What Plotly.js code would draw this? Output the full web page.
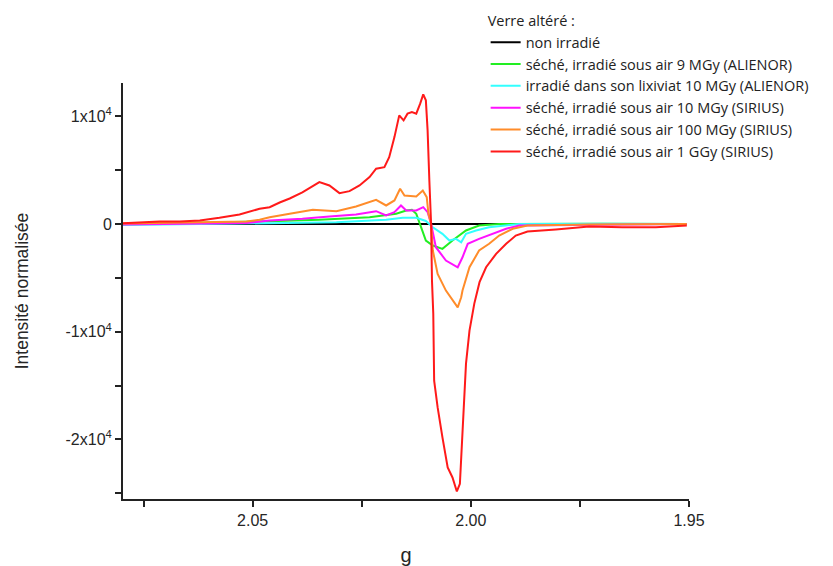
<!DOCTYPE html>
<html>
<head>
<meta charset="utf-8">
<script src="https://cdn.plot.ly/plotly-3.0.1.min.js"></script>
<style>
html,body{margin:0;padding:0;background:#fff;}
#chart{width:833px;height:566px;}
</style>
</head>
<body>
<div id="chart"></div>
<script>
// ---- Data (g factor, normalised intensity) ----
const seriesNames = [
  "non irradié",
  "séché, irradié sous air 9 MGy (ALIENOR)",
  "irradié dans son lixiviat 10 MGy (ALIENOR)",
  "séché, irradié sous air 10 MGy (SIRIUS)",
  "séché, irradié sous air 100 MGy (SIRIUS)",
  "séché, irradié sous air 1 GGy (SIRIUS)"
];

const gBlack = [2.0797, 2.06, 2.04, 2.02, 2.00, 1.98, 1.96, 1.9505];
const yBlack = [0, 0, 0, 0, 0, 0, 0, 0];

const gGreen = [2.0797, 2.0621, 2.0461, 2.0347, 2.0232, 2.0171, 2.0148, 2.0135, 2.0125, 2.0114, 2.0103, 2.0087, 2.0065, 2.0042, 2.0011, 1.9981, 1.9935, 1.97, 1.9505];
const yGreen = [-46, 93, 260, 390, 632, 948, 1255, 1320, 948, -297, -1534, -1998, -2305, -1534, -604, -139, 0, 20, 0];

const gCyan = [2.0797, 2.0700, 2.0621, 2.0461, 2.0308, 2.0194, 2.0156, 2.0125, 2.0103, 2.0087, 2.0065, 2.0049, 2.0034, 2.0022, 2.0011, 1.9988, 1.9958, 1.9919, 1.9889, 1.97, 1.9505];
const yCyan = [-93, -60, -46, 74, 167, 390, 576, 576, 279, -297, -911, -1534, -1375, -1691, -911, -604, -297, -139, 0, 20, 0];

const gMagenta = [2.0797, 2.0667, 2.0514, 2.0461, 2.0386, 2.0324, 2.0263, 2.0217, 2.0194, 2.0175, 2.0160, 2.0148, 2.0125, 2.0109, 2.0099, 2.0091, 2.0080, 2.0057, 2.0030, 2.0019, 2.0007, 1.9981, 1.9950, 1.9919, 1.9889, 1.9706, 1.9505];
const yMagenta = [-46, 46, 93, 325, 483, 697, 883, 1190, 790, 1097, 1719, 1255, 1255, 1561, 1097, 19, -2156, -3392, -4015, -3086, -1840, -1375, -911, -446, -139, -46, 0];

const gOrange = [2.0797, 2.0621, 2.0514, 2.0484, 2.0461, 2.0415, 2.0362, 2.0308, 2.0263, 2.0217, 2.0194, 2.0175, 2.0162, 2.0152, 2.0125, 2.0110, 2.0101, 2.0097, 2.0091, 2.0087, 2.0076, 2.0057, 2.0042, 2.0030, 2.0022, 2.0019, 2.0003, 1.9981, 1.9958, 1.9935, 1.9904, 1.9870, 1.9729, 1.9505];
const yOrange = [46, 139, 232, 390, 632, 948, 1320, 1190, 1626, 2249, 1719, 2184, 3272, 2649, 2556, 3113, 2491, 948, 19, -2463, -4628, -6181, -7110, -7733, -6803, -6181, -4015, -2463, -1840, -1069, -446, -139, -46, 0];

const gRed = [2.0797, 2.0759, 2.0713, 2.0667, 2.0621, 2.0576, 2.0530, 2.0484, 2.0461, 2.0438, 2.0415, 2.0386, 2.0347, 2.0324, 2.0301, 2.0278, 2.0255, 2.0232, 2.0217, 2.0198, 2.0187, 2.0175, 2.0164, 2.0154, 2.0145, 2.0135, 2.0125, 2.0116, 2.0109, 2.0103, 2.0099, 2.0095, 2.0091, 2.0089, 2.0086, 2.0084, 2.0076, 2.0065, 2.0053, 2.0042, 2.0032, 2.0025, 2.0020, 2.0017, 2.0011, 2.0003, 1.9992, 1.9980, 1.9965, 1.9942, 1.9919, 1.9897, 1.9870, 1.9805, 1.9729, 1.9653, 1.9576, 1.9505];
const yRed = [74, 139, 232, 232, 325, 576, 883, 1413, 1561, 1998, 2370, 2928, 3885, 3578, 2863, 3048, 3578, 4350, 5130, 5279, 6208, 8067, 10084, 9619, 10242, 10391, 10242, 11171, 12036, 11478, 8690, 4043, 46, -5251, -8318, -14545, -17027, -19815, -22603, -23532, -24833, -24118, -20121, -16683, -12965, -9898, -7389, -5400, -4015, -2770, -1840, -1069, -700, -500, -232, -297, -297, -139];

const colors = ["#000000", "#22ee22", "#33ffff", "#ff11ff", "#ff8c2a", "#ff1a1a"];

const xTickVals = [2.05, 2.00, 1.95];
const xTickText = ["2.05", "2.00", "1.95"];
const yTickVals = [10000, 0, -10000, -20000];
const yTickText = ["1x10<sup>4</sup>", "0", "-1x10<sup>4</sup>", "-2x10<sup>4</sup>"];

const xs = [gBlack, gGreen, gCyan, gMagenta, gOrange, gRed];
const ys = [yBlack, yGreen, yCyan, yMagenta, yOrange, yRed];

const traces = xs.map((x, i) => ({
  x: x, y: ys[i], name: seriesNames[i], type: 'scatter', mode: 'lines',
  line: {color: colors[i], width: 2}
}));

const axisFamily = '"Liberation Sans", Arial, sans-serif';
const legendFamily = '"Open Sans", sans-serif';
const axisFont = {family: axisFamily, size: 16, color: '#262626'};

const layout = {
  width: 833, height: 566,
  margin: {l: 123, r: 144, t: 83, b: 67, autoexpand: false},
  paper_bgcolor: '#ffffff', plot_bgcolor: '#ffffff',
  showlegend: true,
  legend: {
    xref: 'container', yref: 'container',
    x: 0.583, y: 0.987, xanchor: 'left', yanchor: 'top',
    font: {family: legendFamily, size: 14.5, color: '#222'},
    title: {text: 'Verre altéré :', font: {family: legendFamily, size: 14.5, color: '#222'}},
    bgcolor: 'rgba(0,0,0,0)', tracegroupgap: 0
  },
  xaxis: {
    range: [2.0797, 1.95], autorange: false,
    tickmode: 'array', tickvals: xTickVals, ticktext: xTickText,
    ticks: 'outside', ticklen: 6, tickwidth: 2, tickcolor: '#222',
    minor: {tickmode: 'array', tickvals: [2.075, 2.025, 1.975], ticks: 'outside', ticklen: 6, tickwidth: 2, tickcolor: '#222'},
    showline: true, linewidth: 2, linecolor: '#222', mirror: false,
    showgrid: false, zeroline: false,
    tickfont: axisFont,
    title: {text: 'g', font: {family: axisFamily, size: 20, color: '#262626'}, standoff: 23}
  },
  yaxis: {
    range: [-25530, 13090], autorange: false,
    tickmode: 'array', tickvals: yTickVals, ticktext: yTickText,
    ticks: 'outside', ticklen: 6, tickwidth: 2, tickcolor: '#222',
    minor: {tickmode: 'array', tickvals: [5000, -5000, -15000, -25000], ticks: 'outside', ticklen: 6, tickwidth: 2, tickcolor: '#222'},
    showline: true, linewidth: 2, linecolor: '#222',
    showgrid: false, zeroline: false,
    tickfont: axisFont,
    title: {text: 'Intensité normalisée', font: {family: axisFamily, size: 17.5, color: '#262626'}, standoff: 32}
  }
};

Plotly.newPlot('chart', traces, layout, {displayModeBar: false, staticPlot: true});
</script>
</body>
</html>
